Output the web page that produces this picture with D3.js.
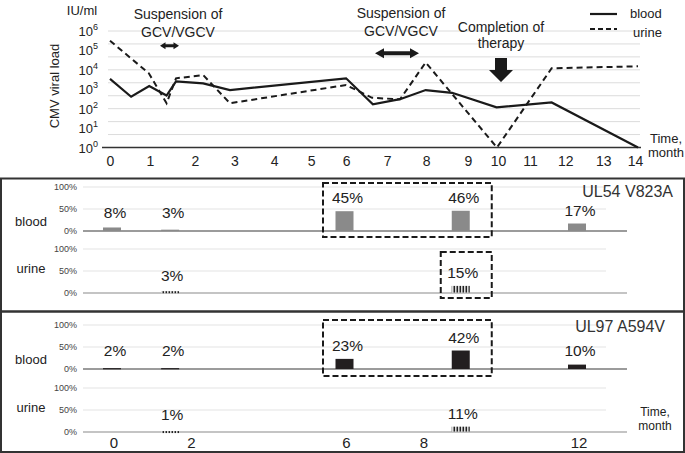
<!DOCTYPE html>
<html><head><meta charset="utf-8">
<script src="https://cdn.jsdelivr.net/npm/d3@7/dist/d3.min.js"></script>
<style>
body{margin:0;background:#fff;}
svg{display:block;font-family:"Liberation Sans",Arial,Helvetica,sans-serif;}
</style>
</head><body>
<svg id="chart" width="685" height="453"></svg>
<script>
// ---------- Top chart data (CMV viral load, IU/ml) ----------
const bloodMonths = [0, 0.56, 1.04, 1.50, 1.75, 2.47, 3.18, 6.26, 6.97, 7.69, 8.37, 9.07, 10.25, 11.71, 14];
const bloodLoad   = [3400, 410, 1480, 475, 2560, 2020, 910, 3650, 167, 308, 910, 655, 118, 208, 1];
const urineMonths = [0, 1.03, 1.50, 1.75, 2.47, 3.18, 6.26, 6.95, 7.69, 8.37, 10.26, 11.71, 14];
const urineLoad   = [316000, 6600, 190, 3650, 5400, 190, 1650, 362, 303, 24000, 1, 12000, 15200];
const topTickLabels = ["0","1","2","3","4","5","6","7","8","9","10","11","12","13","14"];
const topTickPos    = [0, 1.06, 2.25, 3.3, 4.35, 5.33, 6.26, 7.35, 8.38, 9.49, 10.29, 11.14, 12.07, 13.08, 13.92];
const yTickExponents = [0, 1, 2, 3, 4, 5, 6];

// ---------- Bottom panels data (mutation frequency, %) ----------
const sampleMonths = [0, 1.5, 6, 9, 12];
const ul54Blood = [8, 3, 45, 46, 17];
const ul54UrineMonths = [1.5, 9];
const ul54Urine = [3, 15];
const ul97Blood = [2, 2, 23, 42, 10];
const ul97UrineMonths = [1.5, 9];
const ul97Urine = [1, 11];
const bottomTicks = [0, 2, 6, 8, 12];
const pctTicks = [0, 50, 100];

const svg = d3.select("#chart");
const defs = svg.append("defs");
const stripe = defs.append("pattern").attr("id","stripe").attr("patternUnits","userSpaceOnUse")
  .attr("width",3).attr("height",10);
stripe.append("rect").attr("width",3).attr("height",10).attr("fill","#f0f0f0");
stripe.append("rect").attr("x",0.5).attr("width",1.6).attr("height",10).attr("fill","#222");

// ================= TOP CHART =================
const xTop = d3.scaleLinear().domain([0,14]).range([110,638]);
const yTop = d3.scaleLog().domain([1,1e6]).range([147.5,31]);
const gTop = svg.append("g");

// gridlines (9 evenly spaced)
const gridVals = d3.range(9).map(k => Math.pow(10, 6 - k*6/9));
gTop.selectAll("line.grid").data(gridVals).join("line")
  .attr("x1", xTop(0)-2).attr("x2", xTop(14)+2)
  .attr("y1", d=>yTop(d)).attr("y2", d=>yTop(d))
  .attr("stroke","#dcdcdc").attr("stroke-width",1);

// x axis
const xAxisTop = d3.axisBottom(xTop).tickValues(topTickPos)
  .tickFormat((d,i)=>topTickLabels[i]).tickSize(0).tickPadding(8.5);
const gx = gTop.append("g").attr("transform",`translate(0,${yTop(1)})`).call(xAxisTop);
gx.select(".domain").remove();
gx.selectAll("text").attr("font-size",14).attr("fill","#222").attr("font-family","Liberation Sans, Arial, sans-serif");
gTop.append("line").attr("x1",102).attr("x2",xTop(14)+3)
  .attr("y1",yTop(1)).attr("y2",yTop(1)).attr("stroke","#333").attr("stroke-width",1.5);

// y labels
const yl = gTop.selectAll("text.ylab").data(yTickExponents).join("text")
  .attr("x",98).attr("y",d=>yTop(Math.pow(10,d))+5)
  .attr("text-anchor","end").attr("font-size",13).attr("fill","#222");
yl.append("tspan").text("10");
yl.append("tspan").attr("dy",-6).attr("font-size",9).text(d=>d);

gTop.append("text").attr("x",82).attr("y",15).attr("text-anchor","middle")
  .attr("font-size",13).attr("fill","#222").text("IU/ml");
gTop.append("text").attr("transform","translate(59,86) rotate(-90)").attr("text-anchor","middle")
  .attr("font-size",13).attr("fill","#222").text("CMV viral load");

// lines
const line = d3.line().x(d=>xTop(d[0])).y(d=>yTop(d[1]));
gTop.append("path").datum(urineMonths.map((m,i)=>[m,urineLoad[i]]))
  .attr("d",line).attr("fill","none").attr("stroke","#1a1a1a")
  .attr("stroke-width",2).attr("stroke-dasharray","6,4");
gTop.append("path").datum(bloodMonths.map((m,i)=>[m,bloodLoad[i]]))
  .attr("d",line).attr("fill","none").attr("stroke","#1a1a1a").attr("stroke-width",2.2);

// annotations
function annText(x, y, lines, lh){
  const t = gTop.append("text").attr("text-anchor","middle").attr("font-size",14).attr("fill","#222");
  lines.forEach((s,i)=>t.append("tspan").attr("x",x).attr("y",y+i*lh).text(s));
}
annText(178, 19, ["Suspension of","GCV/VGCV"], 18);
annText(401, 18, ["Suspension of","GCV/VGCV"], 17.5);
annText(501, 32, ["Completion of","therapy"], 16);

function dblArrow(x1, x2, y, shaft, headL, headH){
  const p = [[x1,y],[x1+headL,y-headH/2],[x1+headL,y-shaft/2],[x2-headL,y-shaft/2],[x2-headL,y-headH/2],
             [x2,y],[x2-headL,y+headH/2],[x2-headL,y+shaft/2],[x1+headL,y+shaft/2],[x1+headL,y+headH/2]];
  gTop.append("polygon").attr("points",p.map(q=>q.join(",")).join(" ")).attr("fill","#1a1a1a");
}
dblArrow(160, 179, 45.7, 3, 5.5, 7);
dblArrow(375, 419, 53.3, 4, 9, 10);
// down arrow
const da = [[495,58],[507,58],[507,70],[513,70],[501,82],[489,70],[495,70]];
gTop.append("polygon").attr("points",da.map(q=>q.join(",")).join(" ")).attr("fill","#1a1a1a");

// legend
gTop.append("line").attr("x1",590).attr("x2",617).attr("y1",14).attr("y2",14)
  .attr("stroke","#1a1a1a").attr("stroke-width",2.2);
gTop.append("text").attr("x",630).attr("y",18).attr("font-size",13).attr("fill","#222").text("blood");
gTop.append("line").attr("x1",590).attr("x2",617).attr("y1",29).attr("y2",29)
  .attr("stroke","#1a1a1a").attr("stroke-width",2).attr("stroke-dasharray","5,3");
gTop.append("text").attr("x",633).attr("y",37).attr("font-size",13).attr("fill","#222").text("urine");

function annTextSmall(x, y, lines, lh, fs, g){
  const t = (g||gTop).append("text").attr("text-anchor","middle").attr("font-size",fs).attr("fill","#222");
  lines.forEach((s,i)=>t.append("tspan").attr("x",x).attr("y",y+i*lh).text(s));
}
annTextSmall(666, 143, ["Time,","month"], 14, 13);

// ================= BOTTOM PANELS =================
const xB = d3.scaleLinear().domain([0,12]).range([112,577]);
const barW = 18;

const panels = [
  {top:178.5, bottom:311.5, title:"UL54 V823A", titleX:673, titleY:197, bloodY0:231, urineY0:293,
   blood:ul54Blood, bloodFill:"#8a8a8a", urineM:ul54UrineMonths, urine:ul54Urine,
   boxes:[{row:"blood", m0:6, m1:9, t:-4, b:6}, {row:"urine", m0:9, m1:9, t:3, b:5}]},
  {top:311.5, bottom:452, title:"UL97 A594V", titleX:665, titleY:332, bloodY0:369, urineY0:432,
   blood:ul97Blood, bloodFill:"#231f20", urineM:ul97UrineMonths, urine:ul97Urine,
   boxes:[{row:"blood", m0:6, m1:9, t:-5, b:7}]}
];

panels.forEach(p=>{
  const g = svg.append("g");
  const yBlood = d3.scaleLinear().domain([0,100]).range([p.bloodY0, p.bloodY0-44]);
  const yUrine = d3.scaleLinear().domain([0,100]).range([p.urineY0, p.urineY0-44]);
  g.append("rect").attr("x",1).attr("y",p.top).attr("width",683).attr("height",p.bottom-p.top)
    .attr("fill","none").attr("stroke","#333").attr("stroke-width",2);

  [[yBlood,"blood"],[yUrine,"urine"]].forEach(([ys,name])=>{
    g.selectAll(null).data(pctTicks.filter(d=>d>0)).join("line")
      .attr("x1",83).attr("x2",606).attr("y1",d=>ys(d)).attr("y2",d=>ys(d))
      .attr("stroke","#e3e3e3").attr("stroke-width",1);
    g.append("line").attr("x1",83).attr("x2",627).attr("y1",ys(0)).attr("y2",ys(0))
      .attr("stroke", name==="blood" ? "#7a7a7a" : "#c4c4c4").attr("stroke-width",name==="blood"?1.5:2);
    g.selectAll(null).data(pctTicks).join("text")
      .attr("x",77).attr("y",d=>ys(d)+3).attr("text-anchor","end")
      .attr("font-size",9).attr("fill","#444").text(d=>d+"%");
    g.append("text").attr("x",31).attr("y",ys(50)+ (name==="blood"?17:2) ).attr("text-anchor","middle")
      .attr("font-size",13).attr("fill","#222").text(name);
  });

  // dashed boxes
  p.boxes.forEach(b=>{
    const ys = b.row==="blood" ? yBlood : yUrine;
    const x0 = xB(b.m0) - (b.m0===b.m1 ? 20 : 21.5), x1 = xB(b.m1) + 31;
    const y0 = ys(100) + b.t, y1 = ys(0) + b.b;
    g.append("rect").attr("x",x0).attr("y",y0).attr("width",x1-x0).attr("height",y1-y0)
      .attr("fill","none").attr("stroke","#1a1a1a").attr("stroke-width",2).attr("stroke-dasharray","6,3");
  });

  // blood bars
  const bd = sampleMonths.map((m,i)=>({m, v:p.blood[i]}));
  g.selectAll(null).data(bd).join("rect")
    .attr("x",d=>xB(d.m)-barW/2).attr("width",barW)
    .attr("y",d=>yBlood(d.v)).attr("height",d=>Math.max(1.2, yBlood(0)-yBlood(d.v)))
    .attr("fill",p.bloodFill);
  g.selectAll(null).data(bd).join("text")
    .attr("x",d=>xB(d.m)+3).attr("y",d=>Math.min(yBlood(d.v)-8, yBlood(0)-13))
    .attr("text-anchor","middle").attr("font-size",15.5).attr("fill","#222").text(d=>d.v+"%");

  // urine bars
  const ud = p.urineM.map((m,i)=>({m, v:p.urine[i]}));
  g.selectAll(null).data(ud).join("rect")
    .attr("x",d=>xB(d.m)-barW/2).attr("width",barW)
    .attr("y",d=>yUrine(d.v)-0.5).attr("height",d=>Math.max(2, yUrine(0)-yUrine(d.v)))
    .attr("fill","url(#stripe)");
  g.selectAll(null).data(ud).join("text")
    .attr("x",d=>xB(d.m)+2).attr("y",d=>Math.min(yUrine(d.v)-8, yUrine(0)-12))
    .attr("text-anchor","middle").attr("font-size",15.5).attr("fill","#222").text(d=>d.v+"%");

  g.append("text").attr("x",p.titleX).attr("y",p.titleY).attr("text-anchor","end")
    .attr("font-size",16).attr("fill","#333").text(p.title);
});

// bottom axis labels
svg.append("g").selectAll("text").data(bottomTicks).join("text")
  .attr("x",d=>xB(d)+2).attr("y",448).attr("text-anchor","middle")
  .attr("font-size",15).attr("fill","#222").text(d=>d);
annTextSmall(655, 416, ["Time,","month"], 14, 12, svg);
</script>
</body></html>
